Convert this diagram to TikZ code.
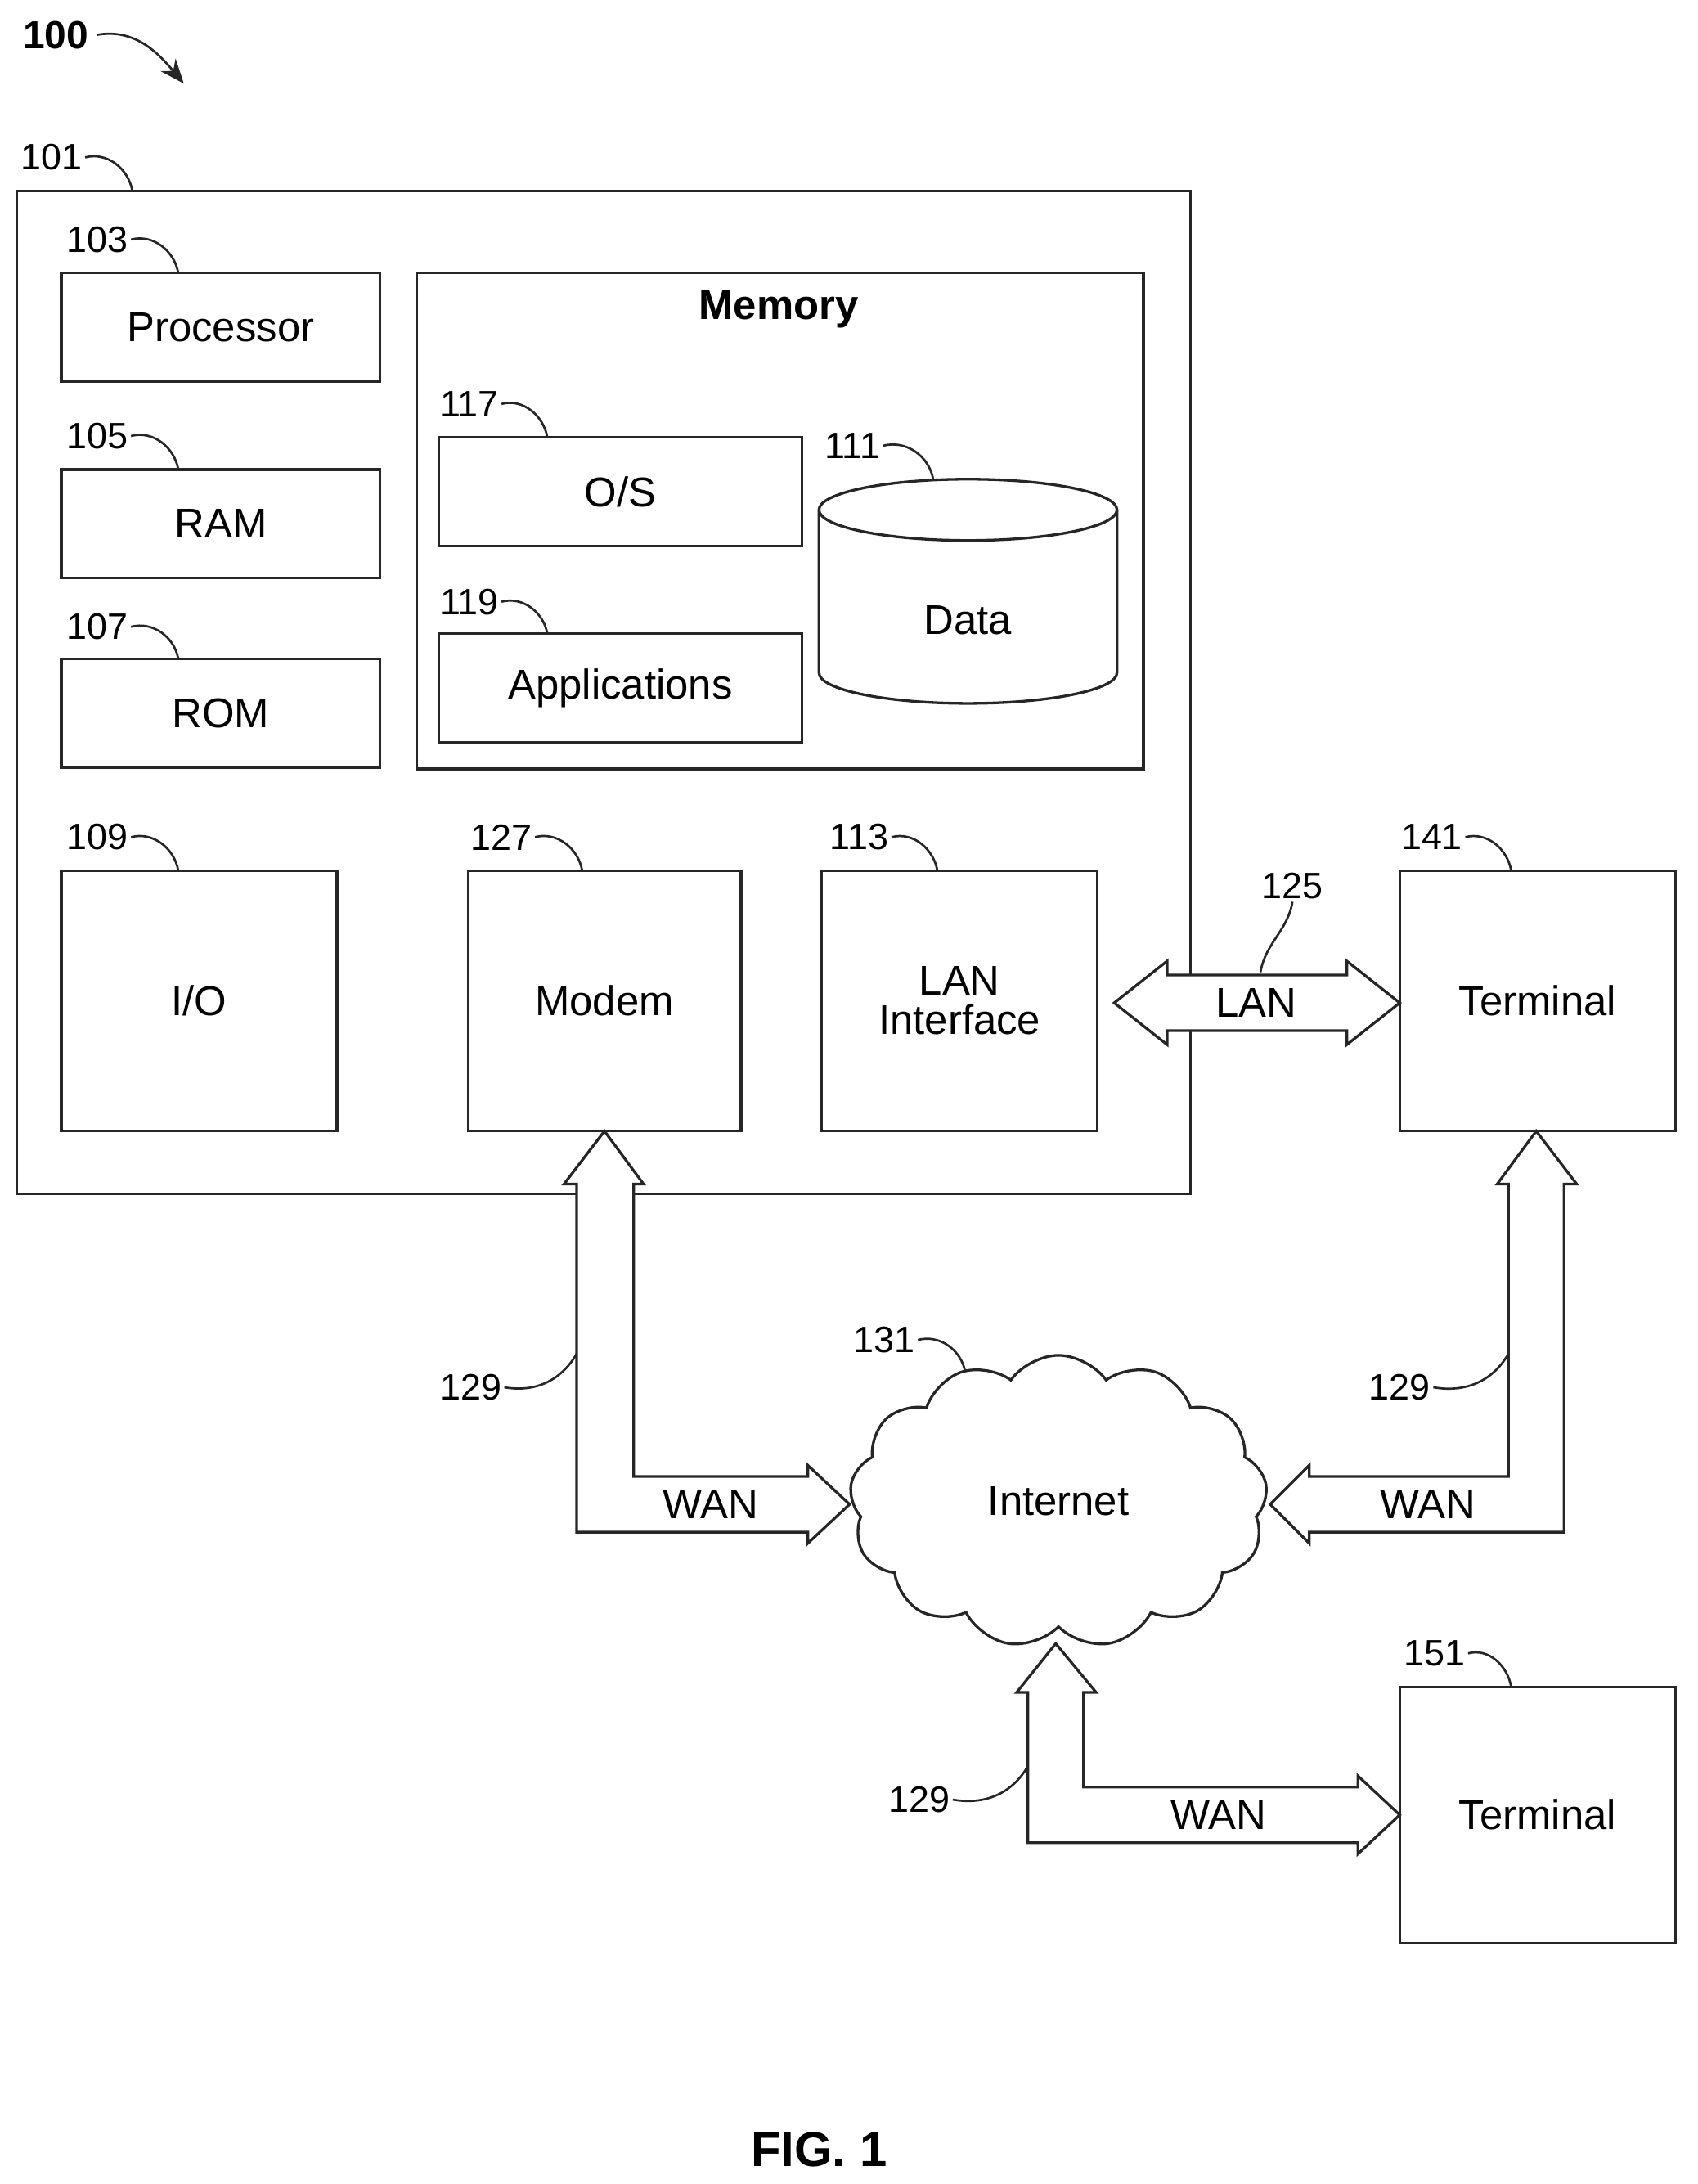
\documentclass[tikz,border=0pt]{standalone}
\usepackage{fontspec}
\setmainfont{Liberation Sans}
\usetikzlibrary{shapes.geometric,shapes.symbols,arrows.meta,positioning,calc}

\tikzset{
    line/.style={draw=black!85,line width=1.1pt},
    box/.style={line,rectangle,inner sep=0pt,font=\fontsize{17}{19}\selectfont,align=center},
    refnum/.style={font=\fontsize{15}{17}\selectfont,inner sep=1pt},
    leader/.style={draw=black!85,line width=0.9pt},
    bigarrow/.style={line,fill=white}
}

\begin{document}
\begin{tikzpicture}[x=0.02cm,y=-0.02cm]
    \useasboundingbox (0,0) rectangle (1219,1568);

    % Computing device
    \node[box,minimum width=16.86cm,minimum height=14.4cm] (dev) at (433.5,497) {};
    \node[box,minimum width=4.58cm,minimum height=1.56cm] (proc) at (158.5,235) {Processor};
    \node[box,minimum width=4.58cm,minimum height=1.56cm] (ram) at (158.5,376) {RAM};
    \node[box,minimum width=4.58cm,minimum height=1.56cm] (rom) at (158.5,512) {ROM};

    % Memory
    \node[box,minimum width=10.44cm,minimum height=7.12cm] (mem) at (560,374) {};
    \node[font=\fontsize{17}{19}\selectfont\bfseries] (memlbl) at (559,222) {Memory};
    \node[box,minimum width=5.22cm,minimum height=1.56cm] (os) at (445.5,353) {O/S};
    \node[box,minimum width=5.22cm,minimum height=1.56cm] (apps) at (445.5,494) {Applications};

    % Data store
    \draw[line] (588,366) -- (588,483) arc[start angle=180,end angle=360,x radius=107,y radius=-22]
                -- (802,366);
    \draw[line] (695,366) ellipse[x radius=107,y radius=22];
    \node[font=\fontsize{17}{19}\selectfont] (data) at (695,445) {Data};

    % Lower row
    \node[box,minimum width=3.96cm,minimum height=3.74cm] (io) at (143,718.5) {I/O};
    \node[box,minimum width=3.92cm,minimum height=3.74cm] (modem) at (434,718.5) {Modem};
    \node[box,minimum width=3.96cm,minimum height=3.74cm] (lanif) at (689,718.5) {LAN\\[-3pt]Interface};
    \node[box,minimum width=3.96cm,minimum height=3.74cm] (term1) at (1104,718.5) {Terminal};
    \node[box,minimum width=3.96cm,minimum height=3.68cm] (term2) at (1104,1303) {Terminal};

    % Internet
    \node[line,cloud,cloud puffs=13,cloud puff arc=110,aspect=1.5,minimum width=6cm,minimum height=4.2cm,
          font=\fontsize{17}{19}\selectfont] (net) at (760,1078) {Internet};

    % LAN link
    \draw[bigarrow] (800,720) -- (838,690) -- (838,700) -- (967,700) -- (967,690) -- (1005,720)
                    -- (967,750) -- (967,740) -- (838,740) -- (838,750) -- cycle;
    \node[font=\fontsize{17}{19}\selectfont] (lan) at (902,720) {LAN};

    % WAN links
    \draw[bigarrow] (434,812) -- (462,850) -- (455,850) -- (455,1060) -- (580,1060) -- (580,1052)
                    -- (610,1080) -- (580,1108) -- (580,1100) -- (414,1100) -- (414,850) -- (405,850) -- cycle;
    \draw[bigarrow] (1103,812) -- (1132,850) -- (1123,850) -- (1123,1100) -- (940,1100) -- (940,1108)
                    -- (912,1080) -- (940,1052) -- (940,1060) -- (1083,1060) -- (1083,850) -- (1075,850) -- cycle;
    \draw[bigarrow] (758,1180) -- (787,1215) -- (778,1215) -- (778,1283) -- (975,1283) -- (975,1275)
                    -- (1005,1303) -- (975,1331) -- (975,1323) -- (738,1323) -- (738,1215) -- (730,1215) -- cycle;
    \node[font=\fontsize{17}{19}\selectfont] (wan1) at (510,1080) {WAN};
    \node[font=\fontsize{17}{19}\selectfont] (wan2) at (1025,1080) {WAN};
    \node[font=\fontsize{17}{19}\selectfont] (wan3) at (875,1303) {WAN};

    % Reference numerals
    \node[font=\fontsize{16}{18}\selectfont\bfseries] (n100) at (40,25) {100};
    \coordinate (n100tip) at (132,60);
    \draw[leader,-{Stealth[length=10pt,width=8pt]}] (n100.east) to[out=10,in=130] (n100tip);

    \foreach \name/\txt/\lx/\ly/\tx/\ty in {
        n101/101/37/113/95/137, n103/103/70/172/128/196, n105/105/70/313/128/337,
        n107/107/70/450/128/473, n117/117/337/290/393/314, n119/119/337/432/393/455,
        n111/111/612/320/670/344, n109/109/70/601/128/625, n127/127/360/601/418/625,
        n113/113/617/601/673/625, n141/141/1028/601/1085/625, n131/131/635/962/693/985,
        n151/151/1030/1187/1085/1211} {
        \node[refnum] (\name) at (\lx,\ly) {\txt};
        \coordinate (\name t) at (\tx,\ty);
        \draw[leader] (\name.east) to[out=15,in=100] (\name t);
    }

    \node[refnum] (n125) at (928,636) {125};
    \coordinate (n125t) at (905,698);
    \draw[leader] (n125.south) to[out=-100,in=80] (n125t);

    \foreach \name/\lx/\ly/\tx/\ty in {
        n129a/338/996/414/972, n129b/1005/996/1083/972, n129c/660/1292/738/1268} {
        \node[refnum] (\name) at (\lx,\ly) {129};
        \coordinate (\name t) at (\tx,\ty);
        \draw[leader] (\name.east) to[out=-10,in=-120] (\name t);
    }

    \node[font=\fontsize{20}{22}\selectfont\bfseries] (fig) at (588,1543) {FIG. 1};
\end{tikzpicture}
\end{document}
